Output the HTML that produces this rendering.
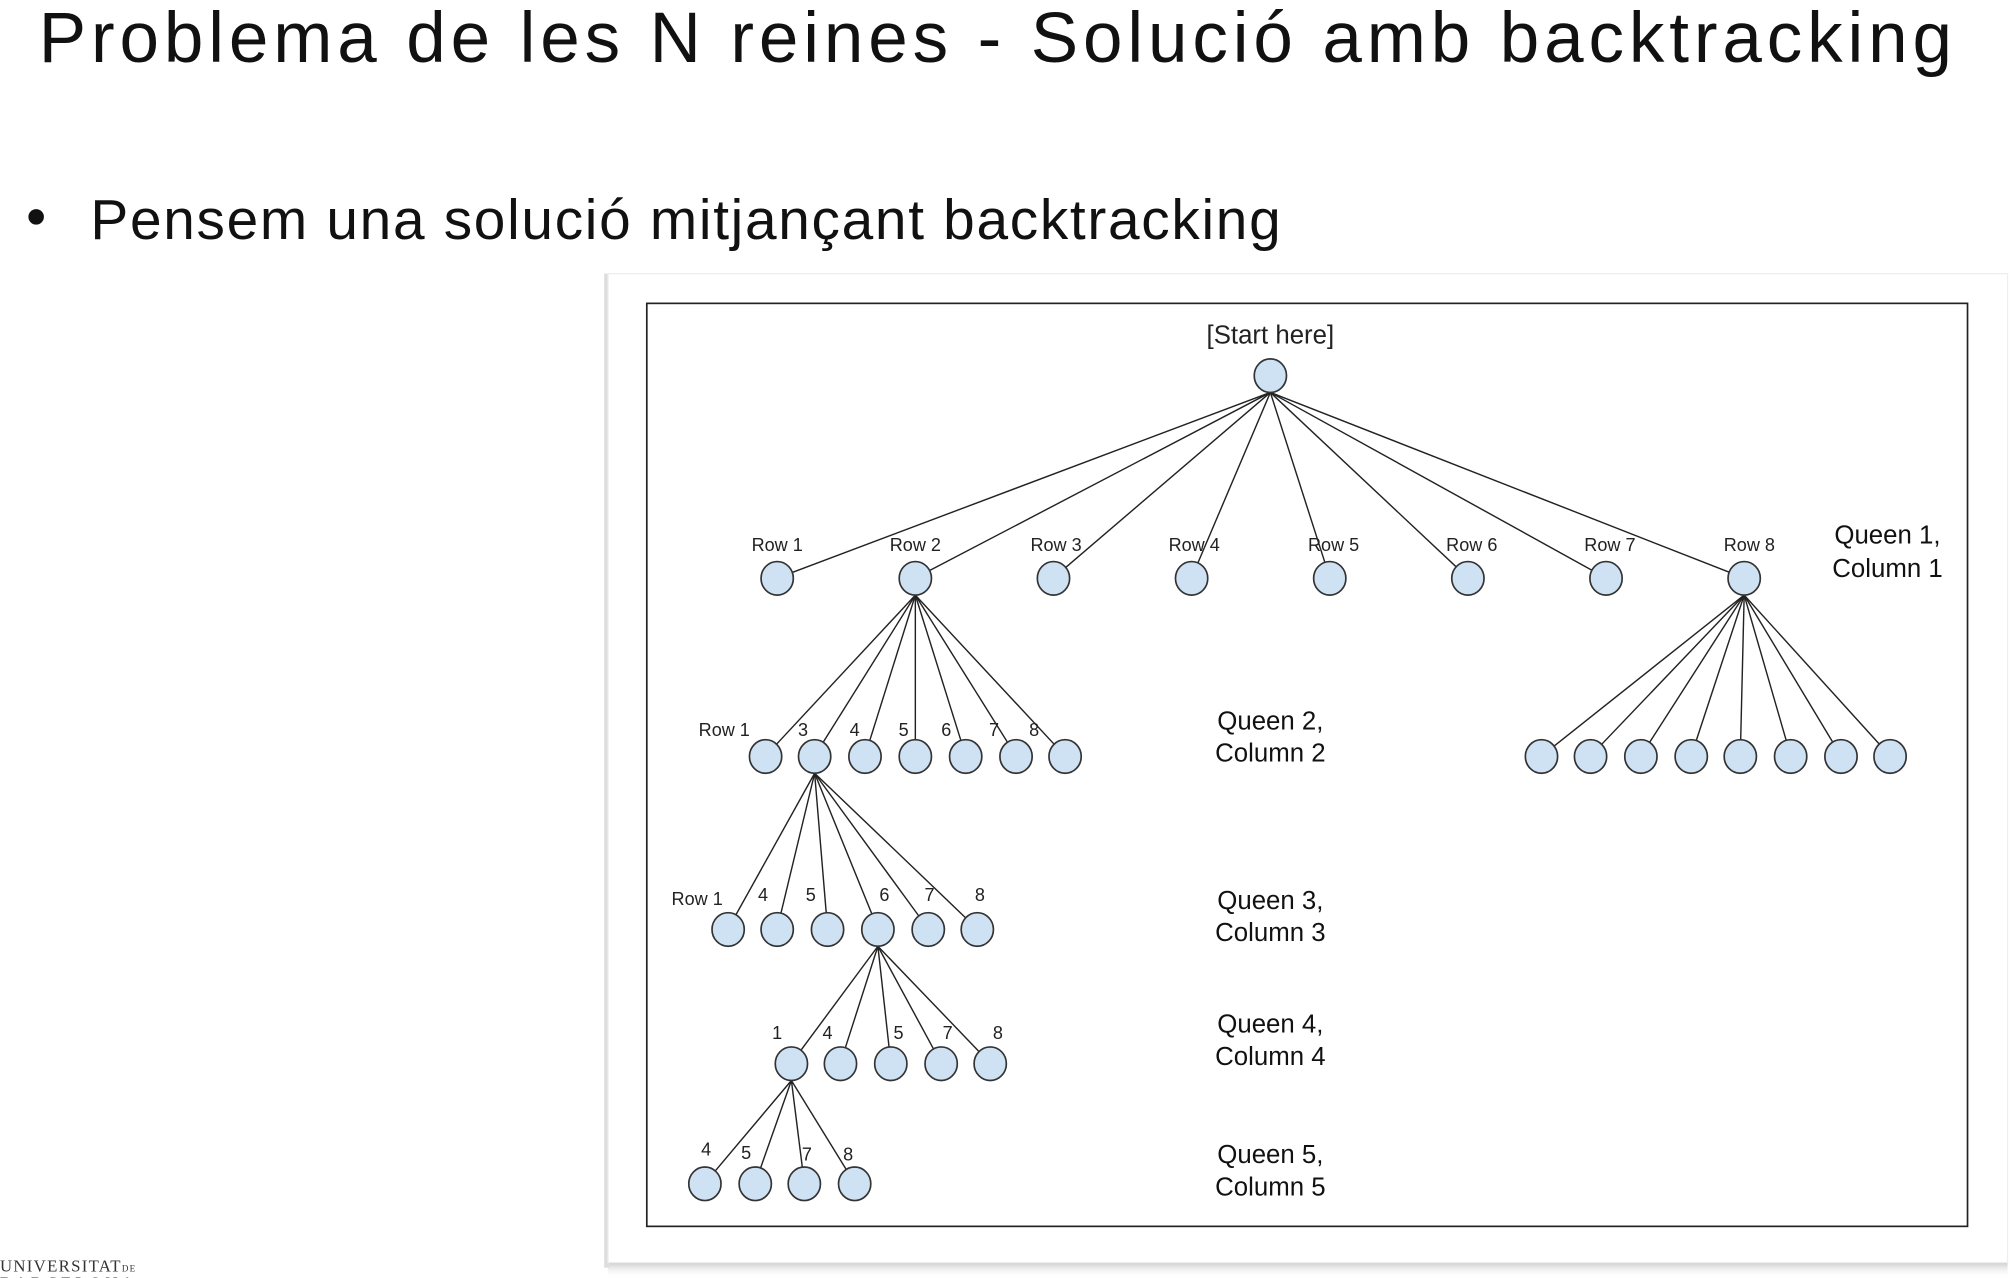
<!DOCTYPE html>
<html><head><meta charset="utf-8"><style>
html,body{margin:0;padding:0;background:#fff;}
svg{display:block;}
</style></head><body>
<svg id="s" width="2014" height="1278" viewBox="0 0 1560 990" preserveAspectRatio="none" xmlns="http://www.w3.org/2000/svg" font-family="Liberation Sans, sans-serif">
<defs>
<linearGradient id="sh" x1="0" y1="0" x2="0" y2="1"><stop offset="0" stop-color="#bbb"/><stop offset="1" stop-color="#fff" stop-opacity="0"/></linearGradient>
</defs>
<text x="30" y="48" font-size="55" fill="#111" textLength="1482" lengthAdjust="spacing">Problema de les N reines - Solució amb backtracking</text>
<circle cx="28" cy="168" r="6" fill="#111"/>
<text x="70" y="185" font-size="44" fill="#111" textLength="922" lengthAdjust="spacing">Pensem una solució mitjançant backtracking</text>
<text x="0" y="985" font-family="Liberation Serif, serif" font-size="13" fill="#333" letter-spacing="1">UNIVERSITAT<tspan font-size="7">DE</tspan></text>
<text x="0" y="998" font-family="Liberation Serif, serif" font-size="13" fill="#333" letter-spacing="3">BARCELONA</text>
<rect x="471" y="976" width="1084" height="14" fill="url(#sh)"/>
<rect x="468" y="212" width="4" height="770" fill="#ddd"/>
<rect x="471" y="212" width="1084" height="766" fill="#fff" stroke="#eee"/>
<rect x="501" y="235" width="1023" height="715" fill="#fff" stroke="#222" stroke-width="1.3"/>
<g id="lines" stroke="#222" stroke-width="1.1"></g>
<g id="nodes" fill="#cfe2f3" stroke="#333" stroke-width="1.3"></g>
<g font-size="14" fill="#222">
<text x="984" y="266" font-size="20" text-anchor="middle">[Start here]</text>
<text x="602" y="427" text-anchor="middle">Row 1</text>
<text x="709" y="427" text-anchor="middle">Row 2</text>
<text x="818" y="427" text-anchor="middle">Row 3</text>
<text x="925" y="427" text-anchor="middle">Row 4</text>
<text x="1033" y="427" text-anchor="middle">Row 5</text>
<text x="1140" y="427" text-anchor="middle">Row 6</text>
<text x="1247" y="427" text-anchor="middle">Row 7</text>
<text x="1355" y="427" text-anchor="middle">Row 8</text>
<text x="561" y="570" text-anchor="middle">Row 1</text>
<text x="622" y="570" text-anchor="middle">3</text>
<text x="662" y="570" text-anchor="middle">4</text>
<text x="700" y="570" text-anchor="middle">5</text>
<text x="733" y="570" text-anchor="middle">6</text>
<text x="770" y="570" text-anchor="middle">7</text>
<text x="801" y="570" text-anchor="middle">8</text>
<text x="540" y="701" text-anchor="middle">Row 1</text>
<text x="591" y="698" text-anchor="middle">4</text>
<text x="628" y="698" text-anchor="middle">5</text>
<text x="685" y="698" text-anchor="middle">6</text>
<text x="720" y="698" text-anchor="middle">7</text>
<text x="759" y="698" text-anchor="middle">8</text>
<text x="602" y="805" text-anchor="middle">1</text>
<text x="641" y="805" text-anchor="middle">4</text>
<text x="696" y="805" text-anchor="middle">5</text>
<text x="734" y="805" text-anchor="middle">7</text>
<text x="773" y="805" text-anchor="middle">8</text>
<text x="547" y="895" text-anchor="middle">4</text>
<text x="578" y="898" text-anchor="middle">5</text>
<text x="625" y="899" text-anchor="middle">7</text>
<text x="657" y="899" text-anchor="middle">8</text>
</g>
<g font-size="20" fill="#111" text-anchor="middle">
<text x="1462" y="421">Queen 1,</text><text x="1462" y="447">Column 1</text>
<text x="984" y="565">Queen 2,</text><text x="984" y="590">Column 2</text>
<text x="984" y="704">Queen 3,</text><text x="984" y="729">Column 3</text>
<text x="984" y="800">Queen 4,</text><text x="984" y="825">Column 4</text>
<text x="984" y="901">Queen 5,</text><text x="984" y="926">Column 5</text>
</g>
</svg>
<script>
var NS="http://www.w3.org/2000/svg";
var L=document.getElementById("lines"),N=document.getElementById("nodes");
function node(x,y){var e=document.createElementNS(NS,"ellipse");e.setAttribute("cx",x);e.setAttribute("cy",y);e.setAttribute("rx",12.5);e.setAttribute("ry",13);N.appendChild(e);}
function fan(px,py,xs,y){xs.forEach(function(x){var dx=px-x,dy=(py+13)-y,d=Math.sqrt(dx*dx+dy*dy);var ex=x+dx/d*12.5,ey=y+dy/d*13;var l=document.createElementNS(NS,"line");l.setAttribute("x1",px);l.setAttribute("y1",py+13);l.setAttribute("x2",ex);l.setAttribute("y2",ey);L.appendChild(l);node(x,y);});}
node(984,291);
fan(984,291,[602,709,816,923,1030,1137,1244,1351],448);
fan(709,448,[593,631,670,709,748,787,825],586);
fan(1351,448,[1194,1232,1271,1310,1348,1387,1426,1464],586);
fan(631,586,[564,602,641,680,719,757],720);
fan(680,720,[613,651,690,729,767],824);
fan(613,824,[546,585,623,662],917);
</script>
</body></html>
